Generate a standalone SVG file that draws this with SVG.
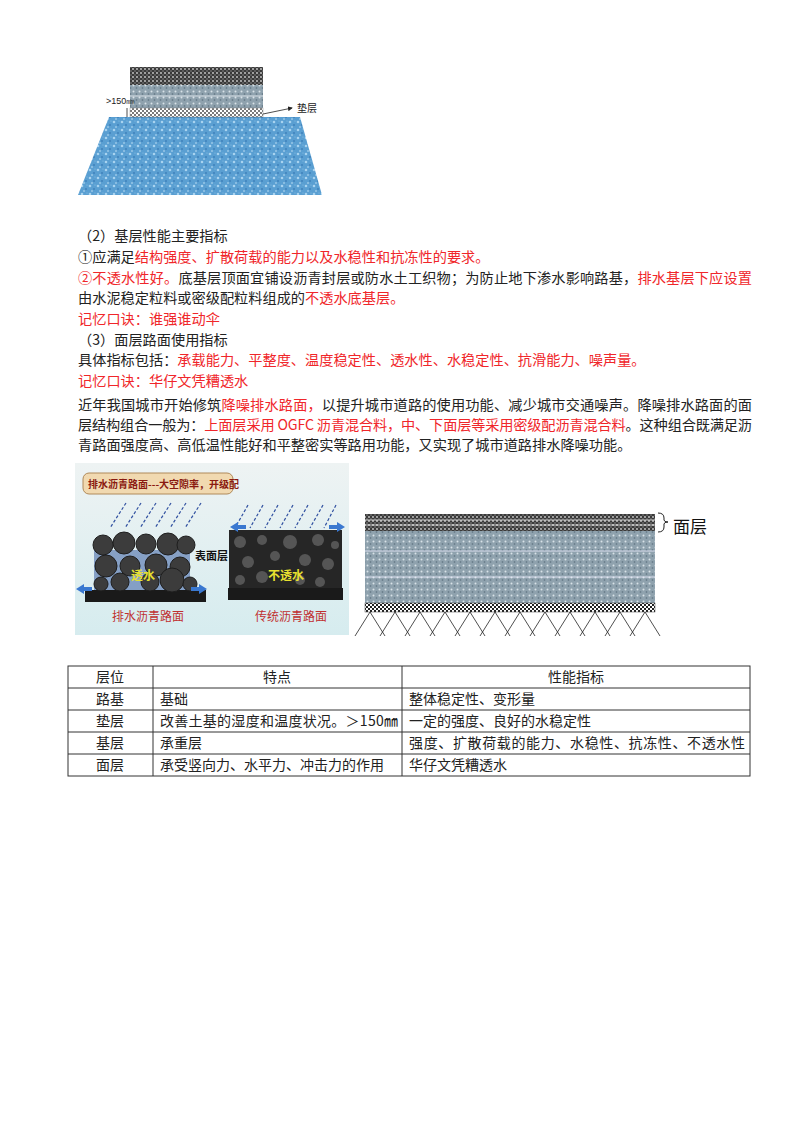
<svg xmlns="http://www.w3.org/2000/svg" width="800" height="1132" viewBox="0 0 800 1132">
<style>
.t{font-family:"Noto Sans CJK SC","Liberation Serif",serif;font-size:14.2px;fill:#222}
.r{fill:#f0262a}
.c{font-family:"Noto Sans CJK SC","Liberation Serif",serif;font-size:14px;fill:#222}
.cell{fill:none;stroke:#333;stroke-width:1}
</style>
<defs>
<pattern id="blue" width="8" height="8" patternUnits="userSpaceOnUse">
<rect width="8" height="8" fill="#5a9fd2"/><circle cx="2" cy="2" r="1.3" fill="#a8d3f0"/><circle cx="6" cy="5" r="1" fill="#3f82bb"/><circle cx="4" cy="7" r="0.8" fill="#c2e2f6"/><circle cx="7" cy="1" r="0.6" fill="#8cc0e6"/>
</pattern>
<pattern id="dark" width="4" height="4" patternUnits="userSpaceOnUse">
<rect width="4" height="4" fill="#3a3a3a"/><circle cx="1" cy="1" r="0.9" fill="#cfcfcf"/><circle cx="3" cy="3" r="0.7" fill="#9a9a9a"/>
</pattern>
<pattern id="gray" width="6" height="6" patternUnits="userSpaceOnUse">
<rect width="6" height="6" fill="#8fa2ae"/><circle cx="1.5" cy="1.5" r="1" fill="#d8e2e8"/><circle cx="4.5" cy="4" r="0.9" fill="#6b7f8c"/>
</pattern>
<pattern id="check" width="4" height="4" patternUnits="userSpaceOnUse">
<rect width="4" height="4" fill="#fff"/><rect width="2" height="2" fill="#222"/><rect x="2" y="2" width="2" height="2" fill="#222"/>
</pattern>
<marker id="ar" markerWidth="6" markerHeight="6" refX="5" refY="3" orient="auto"><path d="M0,0 L6,3 L0,6 z" fill="#222"/></marker>
<linearGradient id="bg" x1="0" y1="0" x2="0" y2="1"><stop offset="0" stop-color="#eef3f3"/><stop offset="1" stop-color="#d6ecef"/></linearGradient>
</defs>

<g id="fig1">
<polygon points="109,117 300,117 322,195 78,195" fill="url(#blue)"/>
<rect x="130" y="67" width="133" height="18" fill="url(#dark)"/>
<rect x="130" y="85" width="133" height="23" fill="url(#gray)"/>
<line x1="130" y1="96" x2="263" y2="96" stroke="#e8eef2" stroke-width="0.8"/>
<rect x="130" y="108" width="133" height="9" fill="url(#check)" opacity="0.6" stroke="#555" stroke-width="0.5"/>
<text x="106" y="104" font-family="Liberation Sans,sans-serif" font-size="9" fill="#222">&gt;150㎜</text>
<line x1="127" y1="108" x2="127" y2="117" stroke="#222" stroke-width="0.8"/>
<line x1="263" y1="114" x2="292" y2="108" stroke="#222" stroke-width="0.8" marker-end="url(#ar)"/>
<text x="297" y="112" font-family="Noto Sans CJK SC,sans-serif" font-size="10" fill="#222">垫层</text>
</g>

<g id="text1">
<text class="t" x="78" y="241">（2）基层性能主要指标</text>
<text class="t" x="78" y="262">①应满足<tspan class="r">结构强度、扩散荷载的能力以及水稳性和抗冻性的要求。</tspan></text>
<text class="t" x="78" y="283" textLength="674"><tspan class="r">②不透水性好。</tspan>底基层顶面宜铺设沥青封层或防水土工织物；为防止地下渗水影响路基，<tspan class="r">排水基层下应设置</tspan></text>
<text class="t" x="78" y="303">由水泥稳定粒料或密级配粒料组成的<tspan class="r">不透水底基层。</tspan></text>
<text class="t r" x="78" y="324">记忆口诀：谁强谁动伞</text>
<text class="t" x="78" y="345">（3）面层路面使用指标</text>
<text class="t" x="78" y="365">具体指标包括：<tspan class="r">承载能力、平整度、温度稳定性、透水性、水稳定性、抗滑能力、噪声量。</tspan></text>
<text class="t r" x="78" y="386">记忆口诀：华仔文凭糟透水</text>
<text class="t" x="78" y="410" textLength="674">近年我国城市开始修筑<tspan class="r">降噪排水路面，</tspan>以提升城市道路的使用功能、减少城市交通噪声。降噪排水路面的面</text>
<text class="t" x="78" y="430" textLength="674">层结构组合一般为：<tspan class="r">上面层采用 OGFC 沥青混合料，中、下面层等采用密级配沥青混合料</tspan>。这种组合既满足沥</text>
<text class="t" x="78" y="450">青路面强度高、高低温性能好和平整密实等路用功能，又实现了城市道路排水降噪功能。</text>
</g>

<g id="photo">
<rect x="75" y="463" width="274" height="172" fill="url(#bg)"/>
<rect x="83" y="473" width="150" height="21" rx="6" fill="#f1d9b0" stroke="#b08a5a"/>
<text x="88" y="488" font-family="Noto Sans CJK SC,sans-serif" font-size="10" fill="#8a1a10" font-weight="bold">排水沥青路面---大空隙率，开级配</text>
<g stroke="#3050a0" stroke-width="1.2" stroke-dasharray="3,2">
<line x1="126" y1="503" x2="110" y2="528"/><line x1="141" y1="503" x2="125" y2="528"/><line x1="156" y1="503" x2="140" y2="528"/><line x1="171" y1="503" x2="155" y2="528"/><line x1="186" y1="503" x2="170" y2="528"/><line x1="201" y1="503" x2="185" y2="528"/>
<line x1="248" y1="505" x2="235" y2="528"/><line x1="263" y1="505" x2="250" y2="528"/><line x1="278" y1="505" x2="265" y2="528"/><line x1="293" y1="505" x2="280" y2="528"/><line x1="308" y1="505" x2="295" y2="528"/><line x1="323" y1="505" x2="310" y2="528"/><line x1="336" y1="505" x2="324" y2="528"/>
</g>
<rect x="85" y="590" width="121" height="12" fill="#1a1a1a"/>
<rect x="94" y="550" width="96" height="40" fill="#4a6aa8" opacity="0.6"/>
<g fill="#3c3c3c" stroke="#1e1e1e">
<circle cx="103" cy="545" r="10"/><circle cx="124" cy="543" r="11"/><circle cx="146" cy="544" r="10"/><circle cx="168" cy="544" r="11"/><circle cx="186" cy="545" r="9"/>
<circle cx="106" cy="566" r="11"/><circle cx="130" cy="566" r="10"/><circle cx="156" cy="565" r="11"/><circle cx="180" cy="567" r="10"/>
<circle cx="101" cy="584" r="7"/><circle cx="120" cy="582" r="9"/><circle cx="150" cy="582" r="9"/><circle cx="172" cy="580" r="12"/><circle cx="190" cy="584" r="7"/>
</g>
<rect x="229" y="530" width="113" height="58" fill="#262626"/>
<g fill="#555">
<circle cx="240" cy="542" r="6"/><circle cx="262" cy="540" r="5"/><circle cx="290" cy="542" r="7"/><circle cx="318" cy="540" r="6"/><circle cx="335" cy="545" r="4"/>
<circle cx="248" cy="562" r="6"/><circle cx="275" cy="556" r="5"/><circle cx="305" cy="560" r="6"/><circle cx="328" cy="564" r="6"/>
<circle cx="240" cy="580" r="5"/><circle cx="262" cy="577" r="6"/><circle cx="300" cy="580" r="5"/><circle cx="320" cy="582" r="5"/>
</g>
<rect x="228" y="588" width="115" height="12" fill="#1a1a1a"/>
<g fill="#3a78d0">
<polygon points="76,589 84,584 84,587 92,587 92,591 84,591 84,594"/>
<polygon points="207,589 199,584 199,587 191,587 191,591 199,591 199,594"/>
<polygon points="230,527 238,522 238,525 246,525 246,529 238,529 238,532"/>
<polygon points="345,527 337,522 337,525 329,525 329,529 337,529 337,532"/>
</g>
<text x="195" y="560" font-family="Noto Sans CJK SC,sans-serif" font-size="11" font-weight="bold" fill="#111">表面层</text>
<text x="131" y="580" font-family="Noto Sans CJK SC,sans-serif" font-size="12" font-weight="bold" fill="#e8e030">透水</text>
<text x="268" y="580" font-family="Noto Sans CJK SC,sans-serif" font-size="12" font-weight="bold" fill="#e8e030">不透水</text>
<text x="112" y="621" font-family="Noto Sans CJK SC,sans-serif" font-size="12" fill="#c03030">排水沥青路面</text>
<text x="255" y="621" font-family="Noto Sans CJK SC,sans-serif" font-size="12" fill="#c03030">传统沥青路面</text>
</g>

<g id="fig3">
<rect x="365" y="514" width="290" height="17" fill="url(#dark)"/>
<line x1="365" y1="520" x2="655" y2="520" stroke="#eee" stroke-width="0.8"/>
<line x1="365" y1="525" x2="655" y2="525" stroke="#eee" stroke-width="0.8"/>
<rect x="365" y="531" width="290" height="72" fill="url(#gray)"/>
<line x1="365" y1="551" x2="655" y2="551" stroke="#eef" stroke-width="0.8"/>
<line x1="365" y1="577" x2="655" y2="577" stroke="#eef" stroke-width="0.8"/>
<rect x="365" y="603" width="290" height="9" fill="url(#check)" stroke="#444" stroke-width="0.5"/>
<path d="M370,612 L355,636 M370,612 L385,636 M395,612 L380,636 M395,612 L410,636 M420,612 L405,636 M420,612 L435,636 M445,612 L430,636 M445,612 L460,636 M470,612 L455,636 M470,612 L485,636 M495,612 L480,636 M495,612 L510,636 M520,612 L505,636 M520,612 L535,636 M545,612 L530,636 M545,612 L560,636 M570,612 L555,636 M570,612 L585,636 M595,612 L580,636 M595,612 L610,636 M620,612 L605,636 M620,612 L635,636 M645,612 L630,636 M645,612 L660,636" fill="none" stroke="#222" stroke-width="0.8"/>
<path d="M658,513 Q664,513 664,518 L664,520 Q664,522 668,522 Q664,522 664,524 L664,527 Q664,532 658,532" fill="none" stroke="#222" stroke-width="1"/>
<text x="673" y="533" font-family="Noto Sans CJK SC,sans-serif" font-size="17" fill="#111">面层</text>
</g>

<g id="table">
<rect class="cell" x="68" y="666" width="682" height="110"/>
<line class="cell" x1="68" y1="688" x2="750" y2="688"/>
<line class="cell" x1="68" y1="710" x2="750" y2="710"/>
<line class="cell" x1="68" y1="732" x2="750" y2="732"/>
<line class="cell" x1="68" y1="754" x2="750" y2="754"/>
<line class="cell" x1="153" y1="666" x2="153" y2="776"/>
<line class="cell" x1="402" y1="666" x2="402" y2="776"/>
<text class="c" x="110" y="682" text-anchor="middle">层位</text>
<text class="c" x="277" y="682" text-anchor="middle">特点</text>
<text class="c" x="576" y="682" text-anchor="middle">性能指标</text>
<g class="r">
<text class="c r" x="110" y="704" text-anchor="middle">路基</text>
<text class="c r" x="160" y="704">基础</text>
<text class="c r" x="409" y="704">整体稳定性、变形量</text>
<text class="c r" x="110" y="726" text-anchor="middle">垫层</text>
<text class="c r" x="160" y="726" textLength="238">改善土基的湿度和温度状况。＞150㎜</text>
<text class="c r" x="409" y="726">一定的强度、良好的水稳定性</text>
<text class="c r" x="110" y="748" text-anchor="middle">基层</text>
<text class="c r" x="160" y="748">承重层</text>
<text class="c r" x="409" y="748" textLength="336">强度、扩散荷载的能力、水稳性、抗冻性、不透水性</text>
<text class="c r" x="110" y="770" text-anchor="middle">面层</text>
<text class="c r" x="160" y="770">承受竖向力、水平力、冲击力的作用</text>
<text class="c r" x="409" y="770">华仔文凭糟透水</text>
</g>
</g>
</svg>
